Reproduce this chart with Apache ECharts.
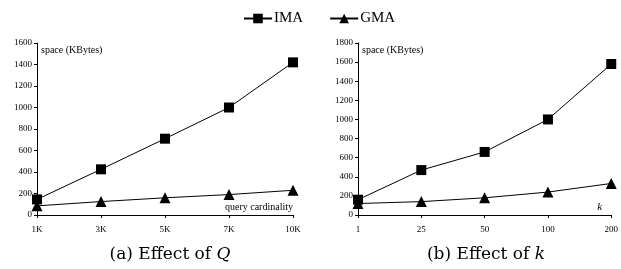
<!DOCTYPE html>
<html>
<head>
    <meta charset="utf-8">
    <script src="https://cdn.jsdelivr.net/npm/echarts@6/dist/echarts.min.js"></script>
    <style type="text/css">
        html, body { margin: 0; padding: 0; background: #fff; }
        #main { width: 621px; height: 269px; }
    </style>
</head>
<body>
    <div id="main"></div>
</body>
</html>

<script type="text/javascript">
    // (a) effect of query cardinality
    let qCats = ['1K', '3K', '5K', '7K', '10K']
    let qIMA = [145, 425, 710, 1000, 1420]
    let qGMA = [85, 125, 160, 190, 230]

    // (b) effect of k
    let kCats = ['1', '25', '50', '100', '200']
    let kIMA = [160, 470, 660, 1000, 1580]
    let kGMA = [120, 140, 180, 240, 330]

    let serif = '"Liberation Serif", "DejaVu Serif", serif'
    let capFont = '"DejaVu Serif", serif'
    let myChart = echarts.init(document.getElementById('main'))

    function xAxisOf(idx, cats, name, nameStyle) {
        return {
            gridIndex: idx,
            type: 'category',
            data: cats,
            boundaryGap: false,
            name: name,
            nameLocation: 'end',
            nameGap: 0,
            nameTextStyle: nameStyle,
            axisLine: { lineStyle: { color: '#000', width: 1 } },
            axisTick: { length: 3, lineStyle: { color: '#000' } },
            axisLabel: { color: '#000', fontFamily: serif, fontSize: 9, margin: 10 },
            splitLine: { show: false }
        }
    }

    function yAxisOf(idx, max) {
        return {
            gridIndex: idx,
            type: 'value',
            min: 0,
            max: max,
            interval: 200,
            name: 'space (KBytes)',
            nameLocation: 'end',
            nameGap: -2,
            nameTextStyle: {
                color: '#000', fontFamily: serif, fontSize: 10,
                align: 'left', verticalAlign: 'top', padding: [0, 0, 0, 4]
            },
            axisLine: { show: true, lineStyle: { color: '#000', width: 1 } },
            axisTick: { show: true, length: 3, lineStyle: { color: '#000' } },
            axisLabel: {
                color: '#000', fontFamily: serif, fontSize: 9, margin: 5,
                formatter: v => String(v)
            },
            splitLine: { show: false }
        }
    }

    function lineOf(name, idx, data, symbol) {
        return {
            name: name,
            type: 'line',
            xAxisIndex: idx,
            yAxisIndex: idx,
            data: data,
            symbol: symbol,
            symbolSize: symbol == 'rect' ? 10 : 11,
            showSymbol: true,
            lineStyle: { color: '#000', width: 1 },
            itemStyle: { color: '#000' },
            animation: false
        }
    }

    let option = {
        backgroundColor: '#fff',
        animation: false,
        title: [
            {
                text: '(a) Effect of {i|Q}',
                left: 165, top: 241, textAlign: 'center',
                textStyle: {
                    color: '#000', fontFamily: capFont, fontSize: 17, fontWeight: 'normal',
                    rich: { i: { fontStyle: 'italic', fontFamily: capFont, fontSize: 17 } }
                }
            },
            {
                text: '(b) Effect of {i|k}',
                left: 481, top: 241, textAlign: 'center',
                textStyle: {
                    color: '#000', fontFamily: capFont, fontSize: 17, fontWeight: 'normal',
                    rich: { i: { fontStyle: 'italic', fontFamily: capFont, fontSize: 17 } }
                }
            }
        ],
        legend: {
            data: ['IMA', 'GMA'],
            left: 238,
            top: 6,
            itemGap: 26,
            itemWidth: 28,
            itemHeight: 12,
            textStyle: { color: '#000', fontFamily: serif, fontSize: 15, padding: [0, 0, 0, -3] }
        },
        grid: [
            { left: 37, right: 328, top: 43, bottom: 54 },
            { left: 358, right: 4, top: 43, bottom: 54 }
        ],
        xAxis: [
            xAxisOf(0, qCats, 'query cardinality', {
                color: '#000', fontFamily: serif, fontSize: 10,
                align: 'right', verticalAlign: 'bottom', padding: [0, 0, 3, 0]
            }),
            xAxisOf(1, kCats, 'k', {
                color: '#000', fontFamily: serif, fontSize: 11, fontStyle: 'italic',
                align: 'right', verticalAlign: 'bottom', padding: [0, 9, 2, 0]
            })
        ],
        yAxis: [yAxisOf(0, 1600), yAxisOf(1, 1800)],
        series: [
            lineOf('IMA', 0, qIMA, 'rect'),
            lineOf('GMA', 0, qGMA, 'triangle'),
            lineOf('IMA', 1, kIMA, 'rect'),
            lineOf('GMA', 1, kGMA, 'triangle')
        ]
    }

    myChart.setOption(option)
</script>
